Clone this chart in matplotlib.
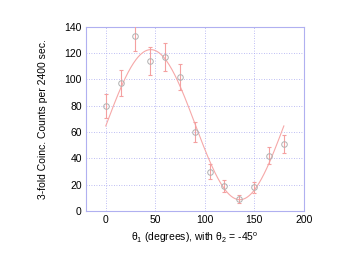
import numpy as np
import matplotlib
matplotlib.use("Agg")
import matplotlib.pyplot as plt

plt.rcParams['font.family'] = ['Liberation Sans', 'DejaVu Sans']

theta1 = [0, 15, 30, 45, 60, 75, 90, 105, 120, 135, 150, 165, 180]
counts = [80, 97, 133, 114, 117, 102, 60, 30, 19, 9, 18, 42, 51]
errors = [9, 10, 11.5, 10.7, 10.8, 10, 7.7, 5.5, 4.4, 3, 4.2, 6.5, 7.1]

# fit curve parameters: A + B*cos(2*(theta - phase))
fit_A = 65.6
fit_B = 57.0
fit_phase = 45.5

fig = plt.figure(figsize=(3.49, 2.67), dpi=100)
ax = fig.add_axes([0.2464, 0.2097, 0.6236, 0.6903])

th = np.linspace(0, 180, 200)
ax.plot(th, fit_A + fit_B * np.cos(np.radians(2 * (th - fit_phase))),
        color='#f6a8a8', lw=0.8, zorder=2)
ax.errorbar(theta1, counts, yerr=errors, fmt='none', ecolor='#f4a0a0',
            elinewidth=0.8, capsize=1.5, capthick=0.8, zorder=3)
ax.plot(theta1, counts, 'o', mfc='none', mec='#b0b0b0', ms=4, mew=0.7, zorder=4)

ax.set_xlim(-20, 200)
ax.set_ylim(0, 140)
ax.set_xticks([0, 50, 100, 150, 200])
ax.set_yticks(range(0, 141, 20))
ax.grid(True, color='#a8a8f0', ls=(0, (1, 2)), lw=0.6)
for s in ax.spines.values():
    s.set_color('#b0b0f0')
    s.set_linewidth(0.8)
ax.tick_params(length=0, labelsize=7.5, pad=3)

ax.set_xlabel(r'$\mathregular{\theta_1}$ (degrees), with $\mathregular{\theta_2}$ = -45$\mathregular{^o}$',
              fontsize=7.5)
ax.set_ylabel('3-fold Coinc. Counts per 2400 sec.', fontsize=7.5, labelpad=12)

fig.savefig('out.png', dpi=100)
